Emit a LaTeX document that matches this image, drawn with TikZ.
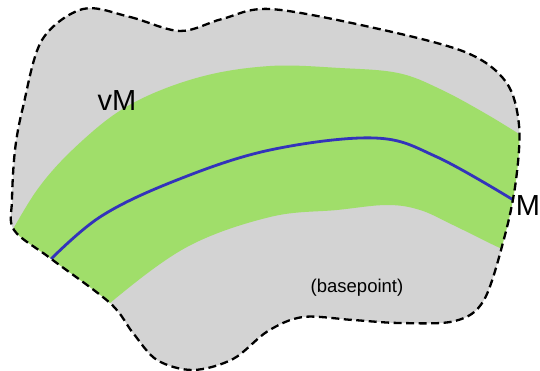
\documentclass[tikz,border=0pt]{standalone}
\usepackage{fontspec}
\setmainfont{Liberation Sans}
\usetikzlibrary{positioning}

\definecolor{blobgray}{RGB}{211,211,211}
\definecolor{bandgreen}{RGB}{160,222,106}
\definecolor{curveblue}{RGB}{51,51,187}

\begin{document}
\begin{tikzpicture}[x=1pt, y=-1pt,
    outline/.style={draw=black, line width=2.3pt, dash pattern=on 8pt off 4.5pt},
    curve/.style={draw=curveblue, line width=2.8pt},
    lbl/.style={inner sep=0pt, font=\fontsize{29}{34}\selectfont}]
    \useasboundingbox (0,0) rectangle (540,371);

    % Outline of the neighbourhood
    \def\blob{plot[smooth cycle, tension=0.55] coordinates {
        (83,9) (130,17) (180,31) (222,19) (270,9) (370,27) (465,52)
        (506,82) (519,125) (516,180) (505,235) (484,300) (455,321)
        (400,323) (353,320) (303,317) (268,331) (233,359) (193,370)
        (157,360) (133,333) (110,303) (50,258) (14,230) (12,200)
        (15,150) (23,107) (42,40)}}

    % Gray region
    \fill[blobgray] \blob;

    \begin{scope}
        \clip \blob;
        % Tubular band
        \fill[bandgreen] plot[smooth, tension=0.6] coordinates {
            (-5,262) (37,190) (83,140) (133,103) (200,77) (270,66)
            (340,68) (398,73) (440,89) (488,115) (535,144)}
            -- (535,262)
            -- plot[smooth, tension=0.6] coordinates {
            (535,262) (500,248) (453,225) (420,210) (387,205) (337,210)
            (270,217) (187,247) (110,303) (80,335)}
            -- cycle;
        % Submanifold
        \draw[curve] plot[smooth, tension=0.6] coordinates {
            (45,265) (100,217) (177,180) (270,150) (375,138)
            (437,157) (515,201)};
    \end{scope}

    \draw[outline] \blob;

    % Labels
    \node[lbl] (vm) at (117,101) {vM};
    \node[lbl] (m) at (528,206) {M};
    \node[inner sep=0pt, font=\fontsize{18.5}{22}\selectfont] (base) at (357,288) {(basepoint)};
\end{tikzpicture}
\end{document}
